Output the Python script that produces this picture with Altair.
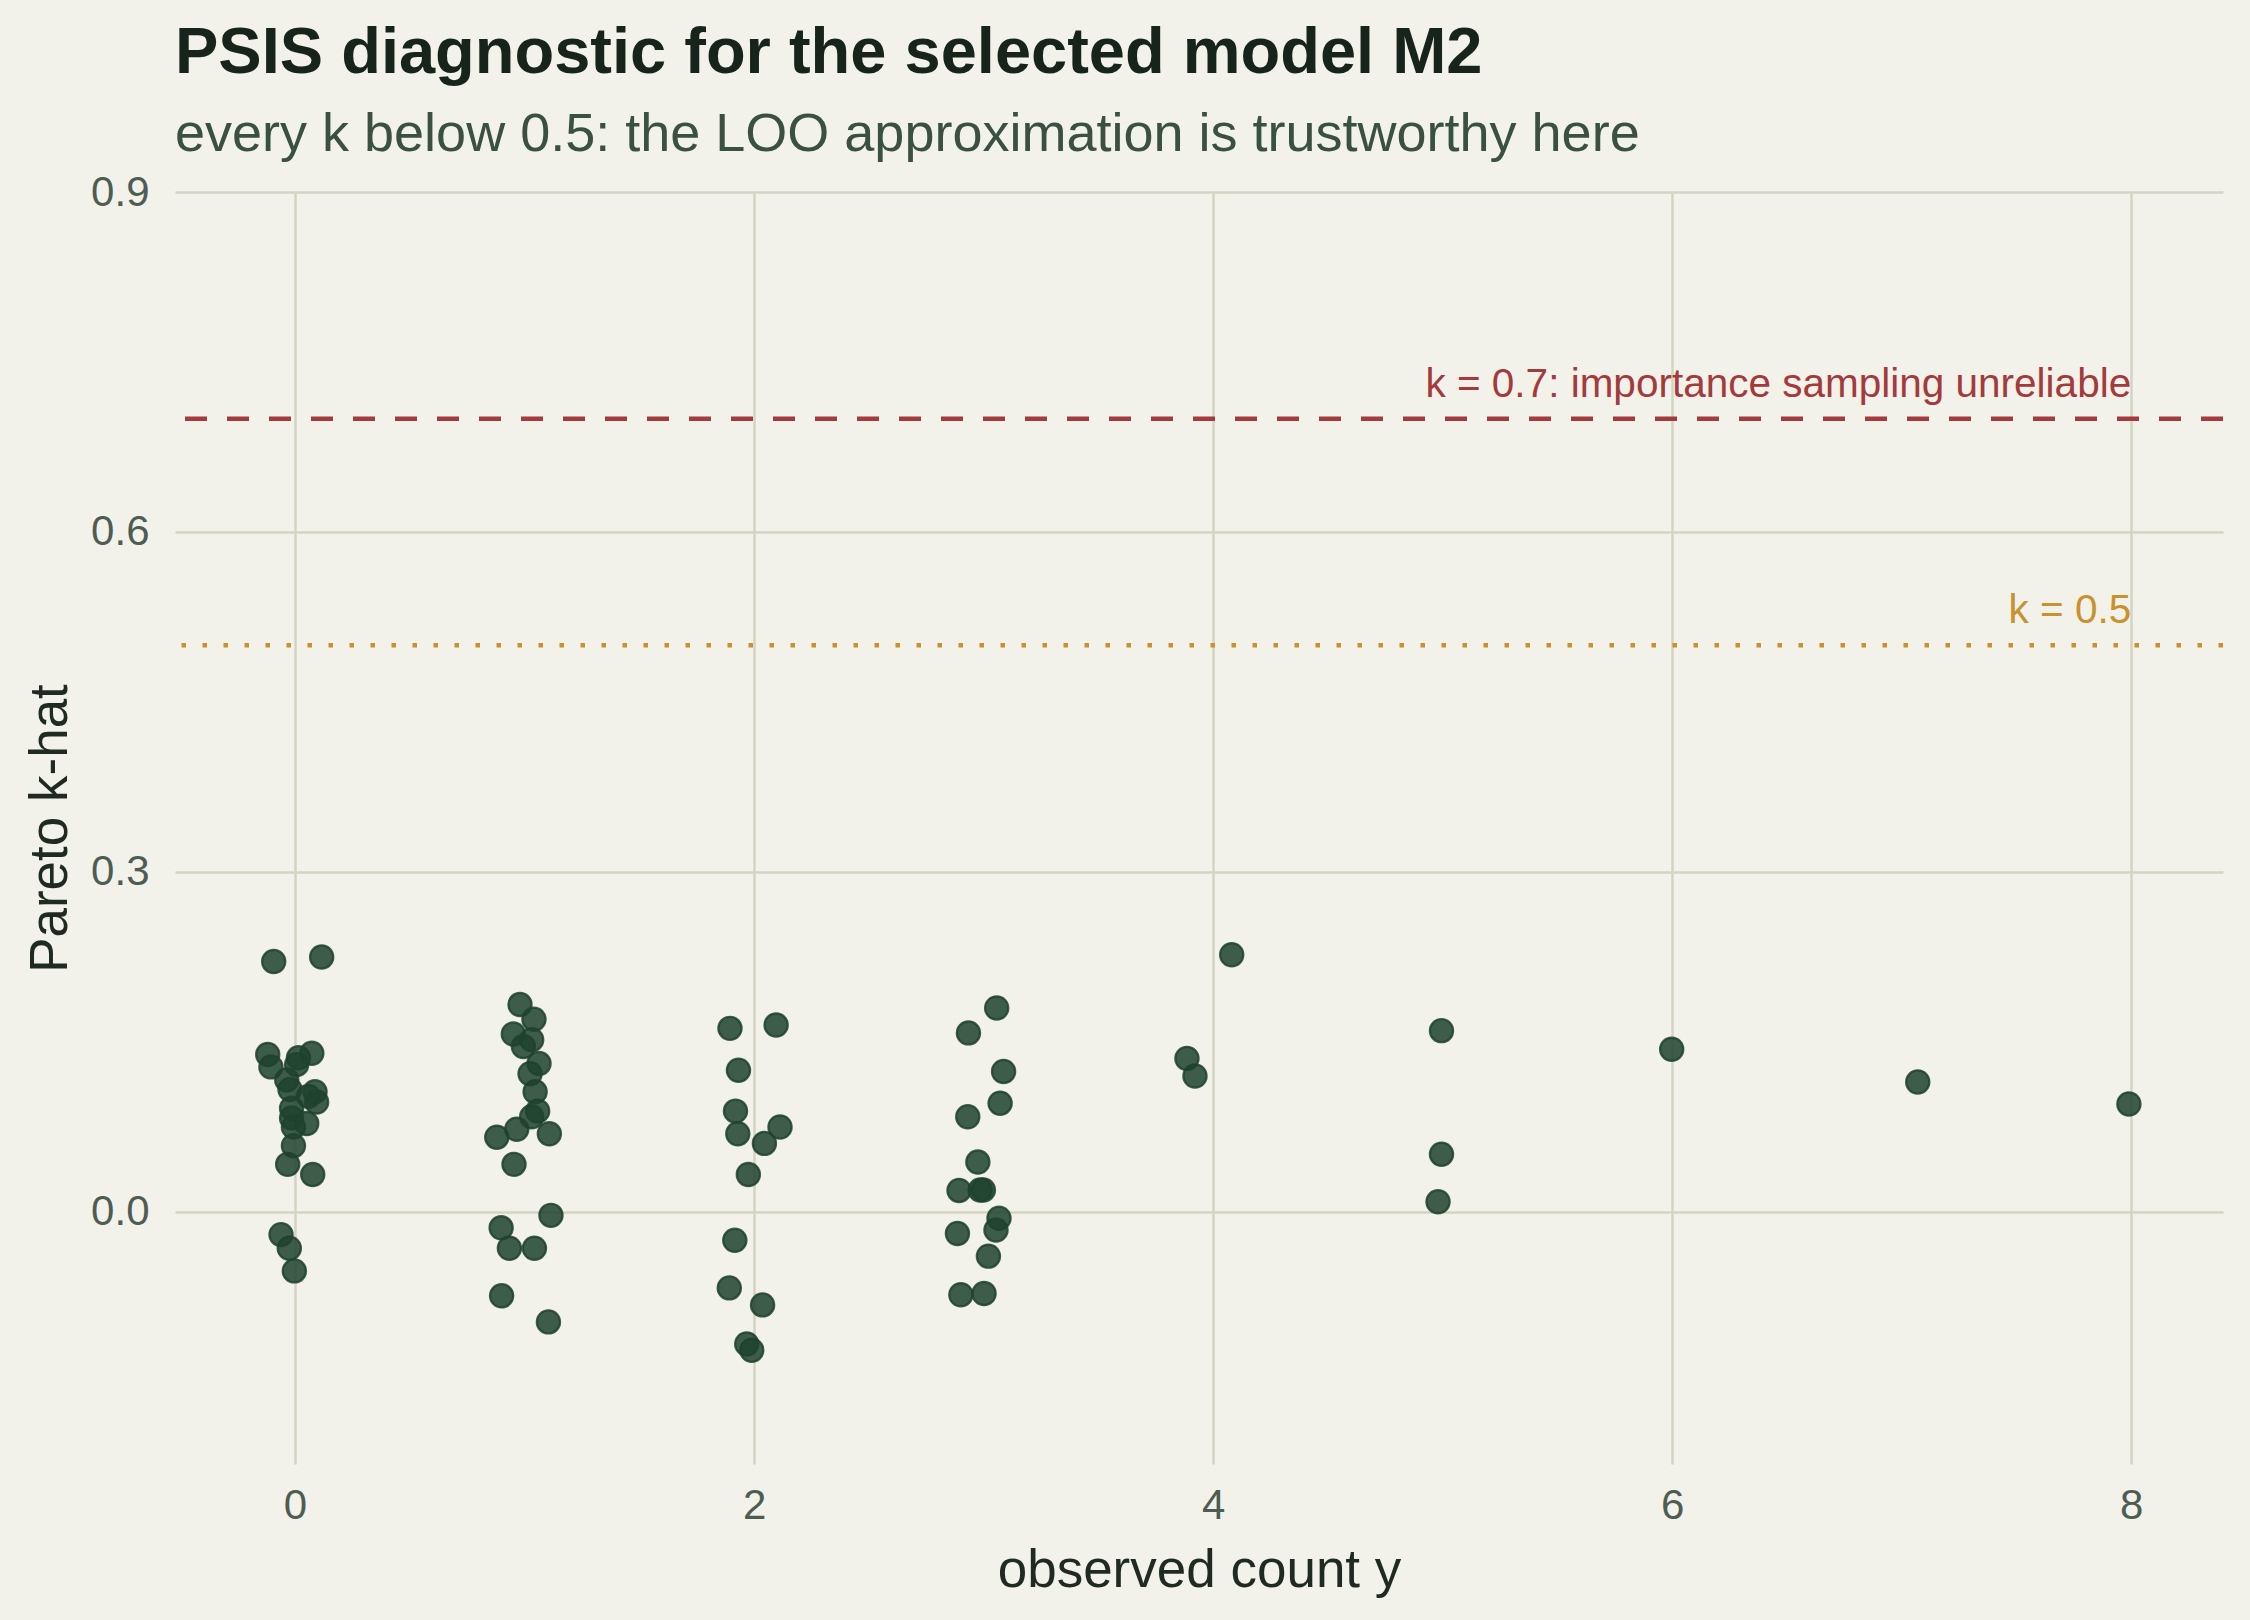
import altair as alt
import pandas as pd

# observed count y (integer) and horizontal jitter used in the plot, and Pareto k-hat
y_obs = (
    [0] * 22 + [1] * 20 + [2] * 13 + [3] * 15 + [4] * 3 + [5] * 3 + [6, 7, 8]
)
jitter = [
    # y = 0
    -0.093, 0.116, -0.119, -0.105, 0.073, 0.015, 0.007, -0.036, -0.022, 0.087, 0.094,
    0.058, -0.015, -0.015, 0.051, -0.007, -0.007, -0.032, 0.077, -0.061, -0.025, -0.003,
    # y = 1
    -0.020, 0.041, -0.049, 0.031, -0.005, 0.063, 0.024, 0.046, 0.057, 0.031,
    -0.034, -0.121, 0.108, -0.046, 0.115, -0.102, -0.066, 0.043, -0.100, 0.104,
    # y = 2
    -0.105, 0.096, -0.068, -0.081, -0.071, 0.113, 0.045, -0.025, -0.084, -0.108,
    0.037, -0.032, -0.010,
    # y = 3
    0.057, -0.066, 0.087, 0.072, -0.069, -0.025, -0.107, -0.015, -0.001, 0.067,
    0.054, -0.114, 0.021, -0.099, 0.002,
    # y = 4
    0.081, -0.114, -0.079,
    # y = 5
    -0.005, -0.005, -0.020,
    # y = 6, 7, 8
    -0.002, 0.070, -0.010,
]
k_hat = [
    # y = 0
    0.221, 0.225, 0.139, 0.128, 0.140, 0.136, 0.130, 0.1165, 0.108, 0.106, 0.097,
    0.102, 0.0915, 0.083, 0.078, 0.075, 0.0585, 0.042, 0.033, -0.020, -0.032, -0.052,
    # y = 1
    0.183, 0.170, 0.157, 0.152, 0.146, 0.131, 0.122, 0.106, 0.089, 0.084,
    0.073, 0.066, 0.069, 0.042, -0.003, -0.014, -0.032, -0.032, -0.074, -0.097,
    # y = 2
    0.162, 0.165, 0.125, 0.089, 0.069, 0.075, 0.0605, 0.033, -0.025, -0.067,
    -0.082, -0.1165, -0.122,
    # y = 3
    0.180, 0.158, 0.124, 0.096, 0.084, 0.044, 0.019, 0.0194, 0.0194, -0.0056,
    -0.016, -0.019, -0.039, -0.073, -0.072,
    # y = 4
    0.227, 0.1355, 0.120,
    # y = 5
    0.160, 0.051, 0.009,
    # y = 6, 7, 8
    0.1436, 0.1147, 0.0953,
]

thresholds = [0.7, 0.5]
threshold_labels = ["k = 0.7: importance sampling unreliable", "k = 0.5"]
threshold_colors = ["#A33A3C", "#C8922E"]
label_x = 8

x_ticks = [0, 2, 4, 6, 8]
y_ticks = [0.0, 0.3, 0.6, 0.9]

FONT = "Liberation Sans"

pts = pd.DataFrame({"y_obs": y_obs, "jitter": jitter, "k": k_hat})
thr = pd.DataFrame({"k": thresholds, "label": threshold_labels, "color": threshold_colors, "lx": [label_x] * 2})

xscale = alt.Scale(domain=[-0.523, 8.4], nice=False, zero=False)
yscale = alt.Scale(domain=[-0.2224, 0.9], nice=False, zero=False)

xaxis = alt.Axis(values=x_ticks, format="d", title="observed count y", labelPadding=21)
yaxis = alt.Axis(values=y_ticks, format=".1f", title="Pareto k-hat")

points = (
    alt.Chart(pts)
    .transform_calculate(xpos="datum.y_obs + datum.jitter")
    .mark_circle(
        size=540,
        fill="#1F422E",
        stroke="#1F422E",
        strokeWidth=2.2,
        fillOpacity=0.85,
        strokeOpacity=0.85,
    )
    .encode(
        x=alt.X("xpos:Q", scale=xscale, axis=xaxis),
        y=alt.Y("k:Q", scale=yscale, axis=yaxis),
    )
)

rule07 = (
    alt.Chart(thr.iloc[[0]])
    .mark_rule(color=threshold_colors[0], strokeWidth=4.5, strokeDash=[22, 20])
    .encode(y=alt.Y("k:Q", scale=yscale))
)
rule05 = (
    alt.Chart(thr.iloc[[1]])
    .mark_rule(color=threshold_colors[1], strokeWidth=4.5, strokeDash=[4.5, 16.5])
    .encode(y=alt.Y("k:Q", scale=yscale))
)

labels = (
    alt.Chart(thr)
    .mark_text(align="right", baseline="alphabetic", dy=-22, fontSize=40.5, font=FONT)
    .encode(
        x=alt.X("lx:Q", scale=xscale),
        y=alt.Y("k:Q", scale=yscale),
        text="label:N",
        color=alt.Color("color:N", scale=None),
    )
)

chart = (
    alt.layer(rule07, rule05, labels, points)
    .properties(
        width=2048,
        height=1272,
        autosize=alt.AutoSizeParams(type="none"),
        padding={"left": 175, "top": 192, "right": 27, "bottom": 156},
        background="#F2F1EA",
        title=alt.TitleParams(
            text="PSIS diagnostic for the selected model M2",
            subtitle="every k below 0.5: the LOO approximation is trustworthy here",
            anchor="start",
            frame="group",
            font=FONT,
            fontSize=65,
            fontWeight="bold",
            color="#17241C",
            subtitleFont=FONT,
            subtitleFontSize=54,
            subtitleColor="#3A5142",
            subtitlePadding=21,
            offset=8,
        ),
    )
    .configure_view(stroke=None, fill="#F2F1EA")
    .configure_axis(
        grid=True,
        gridColor="#D4D4C3",
        gridWidth=2.5,
        domain=False,
        ticks=False,
        labelFont=FONT,
        labelFontSize=42,
        labelColor="#4D5D52",
        labelPadding=26,
        titleFont=FONT,
        titleFontSize=53,
        titleFontWeight="normal",
        titleColor="#1E2A22",
    )
    .configure_axisX(titlePadding=18)
    .configure_axisY(titlePadding=13)
)

chart.save("out.html", embed_options={"renderer": "svg", "actions": False})
